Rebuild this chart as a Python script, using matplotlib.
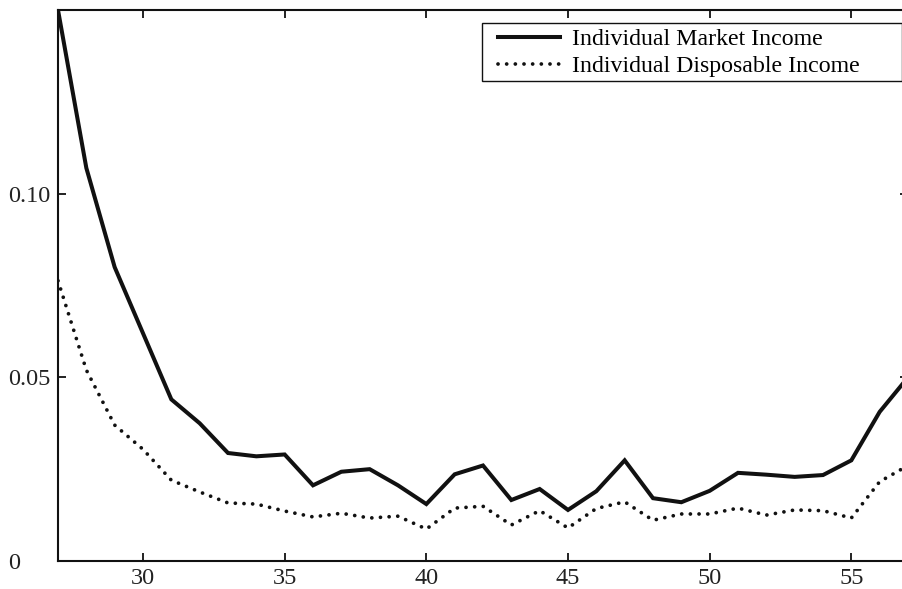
import matplotlib
matplotlib.use("Agg")
import matplotlib.pyplot as plt
from matplotlib.patches import Rectangle

ages = list(range(27, 58))
market_income = [0.150, 0.107, 0.080, 0.062, 0.044, 0.0375, 0.0294, 0.0285, 0.029,
                 0.0206, 0.0243, 0.025, 0.0206, 0.0155, 0.0236, 0.026, 0.0166, 0.0196,
                 0.0139, 0.019, 0.0274, 0.0171, 0.016, 0.0191, 0.024, 0.0235, 0.0229,
                 0.0234, 0.0274, 0.0406, 0.050]
disposable_income = [0.0763, 0.052, 0.037, 0.0304, 0.022, 0.0188, 0.0158, 0.0155, 0.0136,
                     0.012, 0.013, 0.0117, 0.0122, 0.0087, 0.0144, 0.0149, 0.0098, 0.0137,
                     0.009, 0.0143, 0.0161, 0.0111, 0.0128, 0.0128, 0.0144, 0.0125, 0.0139,
                     0.0137, 0.0117, 0.0216, 0.026]
x_ticks = [30, 35, 40, 45, 50, 55]
y_ticks = [0, 0.05, 0.10]
y_tick_labels = ["0", "0.05", "0.10"]
labels = ["Individual Market Income", "Individual Disposable Income"]

plt.rcParams['font.family'] = ['Liberation Serif', 'DejaVu Serif']

W, H = 903, 589
FS = 17.5
LFS = 17.2
fig = plt.figure(figsize=(W / 100, H / 100), dpi=100)
ax = fig.add_axes([58 / W, (H - 561) / H, (908 - 58) / W, (561 - 10) / H])

ax.plot(ages, market_income, color='#111111', lw=2.9, solid_joinstyle='miter',
        label=labels[0])
ax.plot(ages, disposable_income, color='#111111', lw=2.7,
        linestyle=(0, (0.01, 2.3)), dash_capstyle='round', label=labels[1])

ax.set_xlim(27, 57)
ax.set_ylim(0, 0.15)
ax.set_xticks(x_ticks)
ax.set_xticklabels([str(t) for t in x_ticks])
ax.set_yticks(y_ticks)
ax.set_yticklabels(y_tick_labels)

for s in ax.spines.values():
    s.set_linewidth(1.5)
    s.set_color('#111111')

ax.tick_params(axis='both', direction='in', length=6, width=1.3, labelsize=FS,
               top=True, right=True, colors='#111111', labelcolor='#222222')
ax.tick_params(axis='x', pad=5)
ax.tick_params(axis='y', pad=36)
for lbl in ax.get_yticklabels():
    lbl.set_horizontalalignment('left')

# legend frame (wider than the legend content, as in the original)
ax.add_patch(Rectangle((482 / W, 1 - 80.7 / H), (902 - 482) / W, (80.7 - 22.7) / H,
                       transform=fig.transFigure, facecolor='white',
                       edgecolor='#111111', lw=1.0, zorder=4, clip_on=False))
leg = ax.legend(loc='upper left', bbox_to_anchor=(491 / W, 1 - 21 / H),
                bbox_transform=fig.transFigure, borderaxespad=0,
                frameon=False, fontsize=LFS, handlelength=2.6, handletextpad=0.5,
                labelspacing=0.22, borderpad=0.3)
leg.set_zorder(6)

fig.savefig('out.png', dpi=100)
